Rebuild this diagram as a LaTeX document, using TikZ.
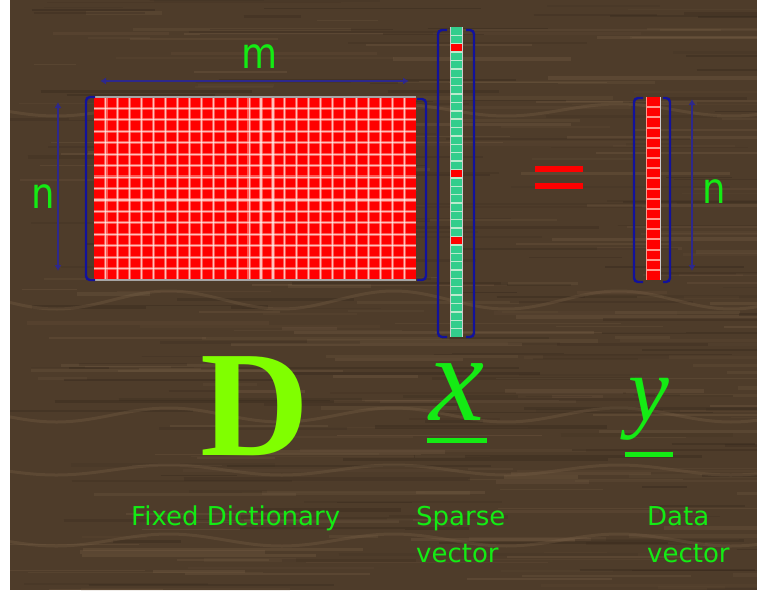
\documentclass[tikz,border=0pt]{standalone}
\usepackage{fontspec}
\setmainfont{Liberation Serif}
\newfontfamily\labelfont{DejaVu Sans}
\usepackage{tikz}
\usetikzlibrary{arrows.meta}
\definecolor{woodbase}{RGB}{78,60,42}
\definecolor{woodlight}{RGB}{125,100,74}
\definecolor{wooddark}{RGB}{48,36,25}
\definecolor{navyline}{RGB}{18,18,155}
\definecolor{dimline}{RGB}{45,40,140}
\definecolor{labelgreen}{RGB}{20,235,20}
\definecolor{limegreen}{RGB}{128,255,0}
\definecolor{sparsegreen}{RGB}{50,205,140}
\definecolor{sparsesep}{RGB}{185,235,205}
\definecolor{cellred}{RGB}{255,0,0}
\definecolor{cellpink}{RGB}{255,150,140}

\begin{document}
\begin{tikzpicture}[x=1pt,y=-1pt,
    bracket/.style={navyline,line width=2.4pt,rounded corners=4pt},
    dimarrow/.style={dimline,line width=2.2pt,{Latex[length=6pt,width=7pt]}-{Latex[length=6pt,width=7pt]}},
    dimlabel/.style={labelgreen,inner sep=0pt,font=\labelfont\fontsize{37}{37}\selectfont},
    caption/.style={labelgreen,inner sep=0pt,anchor=base west,align=left,font=\labelfont\fontsize{26}{37}\selectfont},
    underbar/.style={line width=5pt,labelgreen}]
        % white page and wood board
        \useasboundingbox (0,0) rectangle (757,592);
        \fill[white] (0,0) rectangle (757,592);
        \fill[woodbase] (10,0) rectangle (757,590);
        \begin{scope}
        \clip (10,0) rectangle (757,590);
        \pgfmathsetseed{17}
        \foreach \k in {1,...,220} {
            \pgfmathsetmacro{\yy}{rnd*590}
            \pgfmathsetmacro{\xa}{rnd*740}
            \pgfmathsetmacro{\ll}{40+rnd*260}
            \pgfmathsetmacro{\ww}{0.8+rnd*3}
            \pgfmathsetmacro{\op}{0.08+rnd*0.22}
            \draw[woodlight,line width=\ww pt,opacity=\op] (\xa,\yy) -- ++(\ll,0);
        }
        \foreach \k in {1,...,160} {
            \pgfmathsetmacro{\yy}{rnd*590}
            \pgfmathsetmacro{\xa}{rnd*740}
            \pgfmathsetmacro{\ll}{40+rnd*260}
            \pgfmathsetmacro{\ww}{0.8+rnd*3}
            \pgfmathsetmacro{\op}{0.1+rnd*0.25}
            \draw[wooddark,line width=\ww pt,opacity=\op] (\xa,\yy) -- ++(\ll,0);
        }
        % wavy grain
        \foreach \yb/\amp in {110/6,300/9,415/7,470/5,540/6} {
            \draw[woodlight,line width=3pt,opacity=.3] plot[domain=10:757,samples=80,smooth] (\x,{\yb+\amp*sin(\x*1.6)});
        }
        \end{scope}
        % Fixed dictionary D
        \fill[cellred] (94,97) rectangle (416,280);
        \foreach \i in {1,...,26} {
            \draw[cellpink,line width=3.2pt,opacity=.6] ({94+\i*11.93},97) -- ({94+\i*11.93},280);
        }
        \foreach \j in {1,...,15} {
            \draw[cellpink,line width=3.2pt,opacity=.6] (94,{97+\j*11.44}) -- (416,{97+\j*11.44});
        }
        \foreach \i in {1,...,26} {
            \draw[white,line width=1.1pt,opacity=.6] ({94+\i*11.93},97) -- ({94+\i*11.93},280);
        }
        \foreach \j in {1,...,15} {
            \draw[white,line width=1.1pt,opacity=.6] (94,{97+\j*11.44}) -- (416,{97+\j*11.44});
        }
        \draw[gray!70,line width=1.5pt] (94,97) -- (416,97);
        \draw[gray!70,line width=1.5pt] (94,280) -- (416,280);
        \draw[bracket] (95,97) -- (86,97) -- (86,280) -- (95,280);
        \draw[bracket] (417,99) -- (426,99) -- (426,280) -- (417,280);
        % dimension m
        \coordinate (mL) at (100,81);
        \coordinate (mR) at (409,81);
        \draw[dimarrow] (mL) -- (mR);
        \node[dimlabel] (mlab) at (260,57) {\scalebox{1}[1.15]{m}};
        % dimension n (left)
        \coordinate (nLt) at (58,102);
        \coordinate (nLb) at (58,271);
        \draw[dimarrow] (nLt) -- (nLb);
        \node[dimlabel] (nlabL) at (43,197) {\scalebox{1}[1.15]{n}};
        % sparse vector x
        \fill[sparsegreen] (451,27) rectangle (462,337);
        \foreach \c in {2,17,25} {
            \fill[cellred] (451,{27+\c*8.38}) rectangle (462,{27+(\c+1)*8.38});
        }
        \foreach \c in {1,...,36} {
            \draw[sparsesep,line width=1.4pt] (451,{27+\c*8.38}) -- (462,{27+\c*8.38});
        }
        \draw[gray!40,line width=1.4pt] (450.5,27) -- (450.5,337);
        \draw[gray!40,line width=1.4pt] (462.5,27) -- (462.5,337);
        \draw[bracket] (447,30) -- (438,30) -- (438,337) -- (447,337);
        \draw[bracket] (466,30) -- (474,30) -- (474,337) -- (466,337);
        % equals sign
        \fill[cellred] (535,166) rectangle (583,172);
        \fill[cellred] (535,183) rectangle (583,189);
        % data vector y
        \fill[cellred] (647,97) rectangle (660,280);
        \foreach \c in {1,...,17} {
            \draw[cellpink,line width=2pt] (647,{97+\c*10.17}) -- (660,{97+\c*10.17});
        }
        \draw[cellpink,line width=1.4pt] (646.5,97) -- (646.5,280);
        \draw[gray!40,line width=1.4pt] (660.5,97) -- (660.5,280);
        \draw[bracket] (643,98) -- (634,98) -- (634,282) -- (643,282);
        \draw[bracket] (663,98) -- (670,98) -- (670,282) -- (663,282);
        % dimension n (right)
        \coordinate (nRt) at (692,99);
        \coordinate (nRb) at (692,271);
        \draw[dimarrow] (nRt) -- (nRb);
        \node[dimlabel] (nlabR) at (714,192) {\scalebox{1}[1.15]{n}};
        % symbols
        \node[limegreen,inner sep=0pt,anchor=base west,font=\fontsize{151}{151}\selectfont\bfseries] (dsym) at (200,455) {D};
        \node[labelgreen,inner sep=0pt,anchor=base,font=\fontsize{124}{124}\selectfont\itshape] (xsym) at (457,420) {x};
        \draw[underbar] (427,440) -- (487,440);
        \node[labelgreen,inner sep=0pt,anchor=base,font=\fontsize{92}{92}\selectfont\itshape] (ysym) at (649,420) {y};
        \draw[underbar] (625,454) -- (673,454);
        % captions
        \node[caption] (fixed) at (131,525) {Fixed Dictionary};
        \node[caption] (sparse) at (416,562) {Sparse\\vector};
        \node[caption] (data) at (647,562) {Data\\vector};
\end{tikzpicture}
\end{document}
